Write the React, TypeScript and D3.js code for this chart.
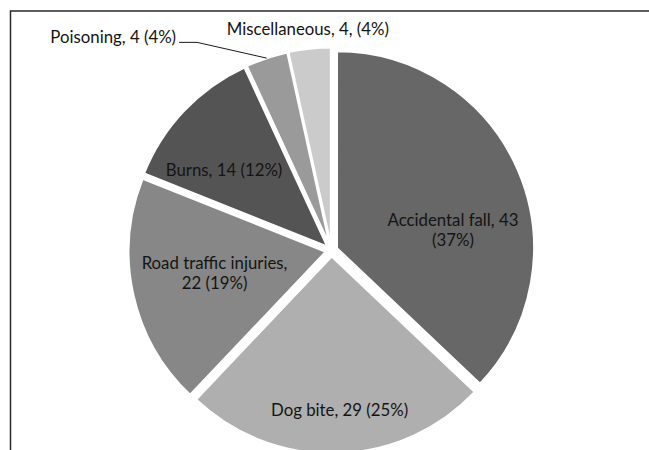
import React from "react";
import * as d3 from "d3";

const categories = ["Accidental fall", "Dog bite", "Road traffic injuries", "Burns", "Poisoning", "Miscellaneous"];
const counts = [43, 29, 22, 14, 4, 4];
const labelLines = [
  ["Accidental fall, 43", "(37%)"],
  ["Dog bite, 29 (25%)"],
  ["Road traffic injuries,", "22 (19%)"],
  ["Burns, 14 (12%)"],
  ["Poisoning, 4 (4%)"],
  ["Miscellaneous, 4, (4%)"],
];
const sliceColors = ["#666766", "#afafaf", "#878787", "#545454", "#9a9a9a", "#cbcbcb"];

// label placement: angle (deg, clockwise from top) and distance as a fraction of radius
const labelAngle = [80.6, 177.1, 258.9, 306.7, 323.9, 353.9];
const labelDist = [0.625, 0.813, 0.605, 0.68, 1.339, 1.128];
const labelAnchor = ["middle", "middle", "middle", "middle", "end", "middle"];

const W = 649;
const H = 450;
const cx = 331.5;
const cy = 250.5;
const R = 197;
const explode = 6;
const fontSize = 16.8;
const lineH = 20;

export default function App() {
  const pie = d3.pie<number>().sort(null).value((d) => d).startAngle(0).endAngle(2 * Math.PI);
  const arcs = pie(counts);
  const arcGen = d3.arc<d3.PieArcDatum<number>>().innerRadius(0).outerRadius(R);
  const polar = (angDeg: number, dist: number) => {
    const a = (angDeg * Math.PI) / 180;
    return [cx + dist * Math.sin(a), cy - dist * Math.cos(a)];
  };

  return (
    <div style={{ position: "fixed", left: 0, top: 0 }}>
      <svg width={W} height={H} style={{ display: "block", background: "#fff" }}>
        <rect x={10.5} y={11} width={W + 20} height={H + 20} fill="none" stroke="#2a2a2a" strokeWidth={1.5} />
        {arcs.map((a, i) => {
          const mid = (a.startAngle + a.endAngle) / 2;
          const ox = explode * Math.sin(mid);
          const oy = -explode * Math.cos(mid);
          return (
            <path
              key={categories[i]}
              d={arcGen(a) || ""}
              transform={`translate(${cx + ox},${cy + oy})`}
              fill={sliceColors[i]}
              stroke="#ffffff"
              strokeWidth={2}
              strokeLinejoin="round"
            />
          );
        })}
        {(() => {
          const i = 4;
          const a = arcs[i];
          const mid = (a.startAngle + a.endAngle) / 2;
          const ex = cx + (R + explode) * Math.sin(mid);
          const ey = cy - (R + explode) * Math.cos(mid);
          const [tx, ty] = polar(labelAngle[i], labelDist[i] * R);
          const y0 = ty + 5;
          return (
            <polyline
              points={`${tx + 3},${y0} ${tx + 21},${y0} ${ex},${ey}`}
              fill="none"
              stroke="#1a1a1a"
              strokeWidth={1}
            />
          );
        })()}
        {labelLines.map((lines, i) => {
          const [x, y] = polar(labelAngle[i], labelDist[i] * R);
          const n = lines.length;
          const firstBaseline = y - ((n - 1) * lineH) / 2 + 5.5;
          return (
            <text
              key={"l" + i}
              x={x}
              y={firstBaseline}
              textAnchor={labelAnchor[i] as any}
              fontFamily="Lato, 'Open Sans', sans-serif"
              fontSize={fontSize}
              fill="#141414"
            >
              {lines.map((t, j) => (
                <tspan key={j} x={x} y={firstBaseline + j * lineH}>
                  {t}
                </tspan>
              ))}
            </text>
          );
        })}
      </svg>
    </div>
  );
}
